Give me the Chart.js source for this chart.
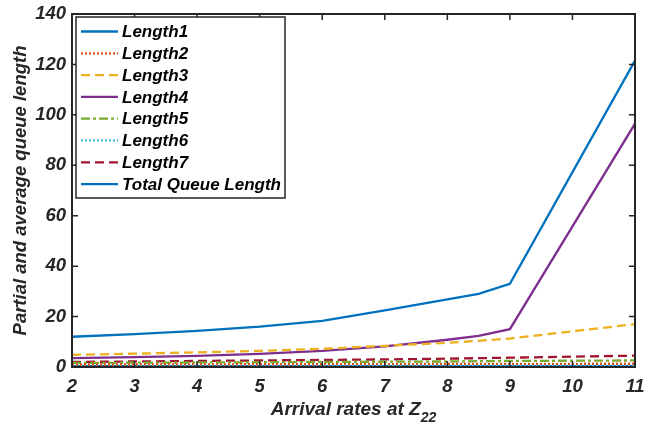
<!DOCTYPE html>
<html>
<head>
<meta charset="utf-8">
<script src="https://cdn.jsdelivr.net/npm/chart.js@4"></script>
<style>
  html, body { margin: 0; padding: 0; background: #fff; }
  #wrap { width: 645px; height: 430px; position: relative; }
</style>
</head>
<body>
<div id="wrap"><canvas id="chart"></canvas></div>
<script>
// arrival rates at Z22
const rates = [2, 3, 4, 5, 6, 7, 8, 8.5, 9, 11];

const length1 = [12.0, 13.0, 14.3, 16.0, 18.3, 22.5, 26.8, 29.0, 33.0, 121.5];
const length2 = [1.0, 1.0, 1.05, 1.1, 1.1, 1.15, 1.2, 1.2, 1.25, 1.3];
const length3 = [4.8, 5.3, 5.8, 6.4, 7.2, 8.4, 9.6, 10.4, 11.3, 17.0];
const length4 = [3.5, 3.9, 4.4, 5.2, 6.4, 8.2, 10.8, 12.3, 15.0, 96.5];
const length5 = [1.6, 1.7, 1.8, 1.9, 2.0, 2.1, 2.2, 2.3, 2.4, 2.6];
const length6 = [0.6, 0.6, 0.6, 0.6, 0.6, 0.6, 0.6, 0.6, 0.6, 0.6];
const length7 = [2.0, 2.2, 2.4, 2.6, 2.8, 3.0, 3.3, 3.5, 3.7, 4.5];
const totalLen = [0.3, 0.3, 0.3, 0.3, 0.3, 0.3, 0.3, 0.3, 0.3, 0.3];

const xTicks = [2, 3, 4, 5, 6, 7, 8, 9, 10, 11];
const yTicks = [0, 20, 40, 60, 80, 100, 120, 140];

const FONT = 'Arial, "Liberation Sans", sans-serif';
const AXIS = '#262626';

const series = [
  { label: 'Length1', data: length1, color: '#0072BD', dash: [] },
  { label: 'Length2', data: length2, color: '#D95319', dash: [2, 2] },
  { label: 'Length3', data: length3, color: '#EDB120', dash: [9, 5] },
  { label: 'Length4', data: length4, color: '#7E2F8E', dash: [] },
  { label: 'Length5', data: length5, color: '#77AC30', dash: [9, 3, 3, 3] },
  { label: 'Length6', data: length6, color: '#4DBEEE', dash: [2, 2] },
  { label: 'Length7', data: length7, color: '#A2142F', dash: [9, 5] },
  { label: 'Total Queue Length', data: totalLen, color: '#0072BD', dash: [] },
];

// box, inner ticks, legend and axis titles, MATLAB style
const matlabFrame = {
  id: 'matlabFrame',
  afterDraw(chart) {
    const { ctx, chartArea: a, scales } = chart;
    ctx.save();
    ctx.strokeStyle = AXIS;
    ctx.lineWidth = 2;
    ctx.setLineDash([]);
    ctx.strokeRect(a.left, a.top, a.right - a.left, a.bottom - a.top);

    ctx.lineWidth = 1.5;
    const t = 6;
    ctx.beginPath();
    xTicks.forEach(v => {
      const x = scales.x.getPixelForValue(v);
      ctx.moveTo(x, a.bottom); ctx.lineTo(x, a.bottom - t);
      ctx.moveTo(x, a.top); ctx.lineTo(x, a.top + t);
    });
    yTicks.forEach(v => {
      const y = scales.y.getPixelForValue(v);
      ctx.moveTo(a.left, y); ctx.lineTo(a.left + t, y);
      ctx.moveTo(a.right, y); ctx.lineTo(a.right - t, y);
    });
    ctx.stroke();

    // legend
    const lx = a.left + 4, ly = a.top + 3, lw = 209, lh = 181;
    ctx.fillStyle = '#fff';
    ctx.fillRect(lx, ly, lw, lh);
    ctx.strokeStyle = AXIS;
    ctx.lineWidth = 1.5;
    ctx.strokeRect(lx, ly, lw, lh);
    ctx.font = 'italic bold 17px ' + FONT;
    ctx.textBaseline = 'middle';
    ctx.textAlign = 'left';
    series.forEach((s, i) => {
      const y = ly + 14.5 + i * 21.8;
      ctx.strokeStyle = s.color;
      ctx.lineWidth = 2.3;
      ctx.setLineDash(s.dash);
      ctx.beginPath();
      ctx.moveTo(lx + 5, y); ctx.lineTo(lx + 42, y);
      ctx.stroke();
      ctx.fillStyle = '#000';
      ctx.fillText(s.label, lx + 46, y + 1);
    });
    ctx.setLineDash([]);

    // x title with subscript
    ctx.fillStyle = AXIS;
    const main = 'Arrival rates at Z';
    ctx.font = 'italic bold 14px ' + FONT;
    const subW = ctx.measureText('22').width;
    ctx.font = 'italic bold 19px ' + FONT;
    const mainW = ctx.measureText(main).width;
    const cx = (a.left + a.right) / 2;
    const x0 = cx - (mainW + subW) / 2;
    ctx.textBaseline = 'alphabetic';
    ctx.fillText(main, x0, 415);
    ctx.font = 'italic bold 14px ' + FONT;
    ctx.fillText('22', x0 + mainW, 422);

    // y title
    ctx.save();
    ctx.translate(21, (a.top + a.bottom) / 2);
    ctx.rotate(-Math.PI / 2);
    ctx.font = 'italic bold 18.5px ' + FONT;
    ctx.textAlign = 'center';
    ctx.textBaseline = 'middle';
    ctx.fillText('Partial and average queue length', 0, 0);
    ctx.restore();

    ctx.restore();
  }
};

new Chart(document.getElementById('chart'), {
  type: 'line',
  data: {
    datasets: series.map(s => ({
      label: s.label,
      data: rates.map((r, i) => ({ x: r, y: s.data[i] })),
      borderColor: s.color,
      backgroundColor: s.color,
      borderDash: s.dash,
      borderWidth: 2.3,
      pointRadius: 0,
      tension: 0,
      fill: false,
    })),
  },
  options: {
    responsive: true,
    maintainAspectRatio: false,
    animation: false,
    layout: { padding: { left: 0, top: 14, right: 10, bottom: 0 } },
    plugins: {
      legend: { display: false },
      tooltip: { enabled: false },
    },
    scales: {
      x: {
        type: 'linear',
        min: 2,
        max: 11,
        afterBuildTicks: s => { s.ticks = xTicks.map(v => ({ value: v })); },
        afterFit: s => { s.height = 63; s.paddingLeft = 0; s.paddingRight = 0; },
        ticks: {
          color: AXIS,
          padding: 9,
          font: { family: FONT, size: 18.5, style: 'italic', weight: 'bold' },
        },
        grid: { display: false, drawTicks: false },
        border: { display: false },
      },
      y: {
        min: 0,
        max: 140,
        afterBuildTicks: s => { s.ticks = yTicks.map(v => ({ value: v })); },
        afterFit: s => { s.width = 72; s.paddingTop = 0; s.paddingBottom = 0; },
        ticks: {
          color: AXIS,
          padding: 6,
          font: { family: FONT, size: 18.5, style: 'italic', weight: 'bold' },
        },
        grid: { display: false, drawTicks: false },
        border: { display: false },
      },
    },
  },
  plugins: [matlabFrame],
});
</script>
</body>
</html>
